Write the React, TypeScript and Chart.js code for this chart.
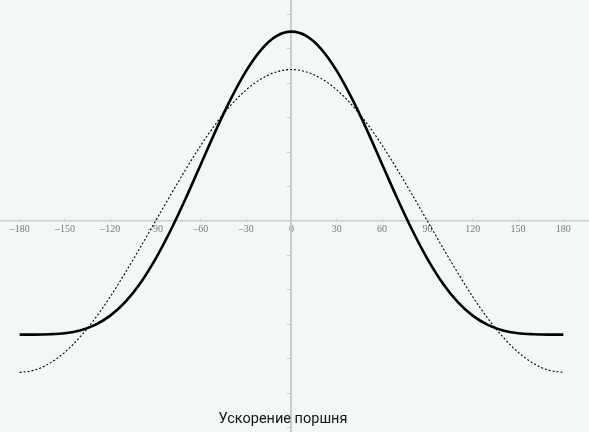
import React, { useEffect, useRef } from 'react';
import { Chart, registerables } from 'chart.js';

Chart.register(...registerables);

// crank angle, degrees
const angles = [
  -180, -170, -160, -150, -140, -130, -120, -110, -100, -90, -80, -70, -60, -50, -40, -30, -20, -10,
  0, 10, 20, 30, 40, 50, 60, 70, 80, 90, 100, 110, 120, 130, 140, 150, 160, 170, 180,
];

// piston acceleration (solid, thick)
const pistonAccel = [
  -3.3, -3.3, -3.29, -3.26, -3.18, -3.02, -2.75, -2.35, -1.8, -1.1, -0.27, 0.66, 1.65, 2.64, 3.56, 4.36, 4.98, 5.37,
  5.5, 5.37, 4.98, 4.36, 3.56, 2.64, 1.65, 0.66, -0.27, -1.1, -1.8, -2.35, -2.75, -3.02, -3.18, -3.26, -3.29, -3.3, -3.3,
];

// first-order component (dotted)
const firstOrder = [
  -4.4, -4.33, -4.13, -3.81, -3.37, -2.83, -2.2, -1.5, -0.76, 0, 0.76, 1.5, 2.2, 2.83, 3.37, 3.81, 4.13, 4.33,
  4.4, 4.33, 4.13, 3.81, 3.37, 2.83, 2.2, 1.5, 0.76, 0, -0.76, -1.5, -2.2, -2.83, -3.37, -3.81, -4.13, -4.33, -4.4,
];

const xTicks = [-180, -150, -120, -90, -60, -30, 0, 30, 60, 90, 120, 150, 180];
const yTicks = [-6, -5, -4, -3, -2, -1, 0, 1, 2, 3, 4, 5, 6];
const xMin = -193;
const xMax = 197;
const yMin = -6.13;
const yMax = 6.42;
const chartTitle = 'Ускорение поршня';

const W = 589;
const H = 432;
const AXIS_COLOR = '#c8cdc9';
const BG = '#f3f8f4';

const bottomTitle = {
  id: 'bottomTitle',
  afterDraw(chart: any) {
    const ctx = chart.ctx;
    ctx.save();
    ctx.font = '14.5px Roboto';
    ctx.fillStyle = '#151515';
    ctx.textAlign = 'center';
    ctx.textBaseline = 'alphabetic';
    ctx.fillText(chartTitle, 283, 423);
    ctx.restore();
  },
};

export default function App() {
  const ref = useRef<HTMLCanvasElement>(null);

  useEffect(() => {
    if (!ref.current) return;
    const chart = new Chart(ref.current, {
      type: 'line',
      data: {
        datasets: [
          {
            label: 'a',
            data: angles.map((x, i) => ({ x, y: pistonAccel[i] })),
            borderColor: '#000',
            borderWidth: 2.6,
            pointRadius: 0,
            cubicInterpolationMode: 'monotone',
            fill: false,
          },
          {
            label: 'a1',
            data: angles.map((x, i) => ({ x, y: firstOrder[i] })),
            borderColor: '#000',
            borderWidth: 1.1,
            borderDash: [2, 2],
            pointRadius: 0,
            cubicInterpolationMode: 'monotone',
            fill: false,
          },
        ],
      },
      options: {
        responsive: false,
        animation: false,
        devicePixelRatio: 1,
        layout: { padding: 0 },
        plugins: {
          legend: { display: false },
          tooltip: { enabled: false },
          title: { display: false },
        },
        scales: {
          x: {
            type: 'linear',
            min: xMin,
            max: xMax,
            position: { y: 0 } as any,
            afterBuildTicks: (scale: any) => {
              scale.ticks = xTicks.map((value) => ({ value }));
            },
            border: { display: true, color: AXIS_COLOR, width: 1.5 },
            grid: {
              drawOnChartArea: false,
              drawTicks: true,
              tickLength: -3,
              tickColor: AXIS_COLOR,
              tickWidth: 1,
            },
            ticks: {
              autoSkip: false,
              maxRotation: 0,
              padding: 5,
              color: '#7a7a7a',
              font: { family: 'Liberation Serif', size: 10 },
              callback: (v: any) => (Number(v) < 0 ? '\u2013' + Math.abs(Number(v)) : String(v)),
            },
          },
          y: {
            type: 'linear',
            min: yMin,
            max: yMax,
            position: { x: 0 } as any,
            afterBuildTicks: (scale: any) => {
              scale.ticks = yTicks.map((value) => ({ value }));
            },
            border: { display: true, color: AXIS_COLOR, width: 2 },
            grid: {
              drawOnChartArea: false,
              drawTicks: true,
              tickLength: 3,
              tickColor: AXIS_COLOR,
              tickWidth: 1,
            },
            ticks: {
              display: false,
            },
          },
        },
      },
      plugins: [bottomTitle],
    });
    return () => chart.destroy();
  }, []);

  return (
    <div style={{ position: 'fixed', left: 0, top: 0, width: W, height: H, background: BG }}>
      <canvas ref={ref} width={W} height={H} style={{ display: 'block', width: W, height: H }} />
    </div>
  );
}
